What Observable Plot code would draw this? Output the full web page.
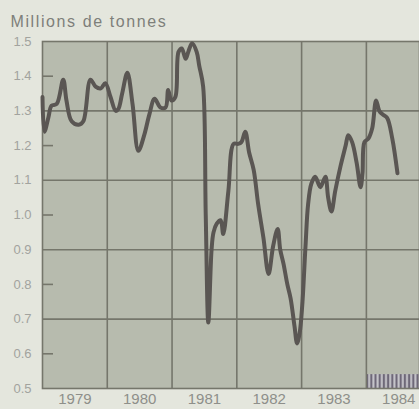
<!DOCTYPE html>
<html>
<head>
<meta charset="utf-8">
<script src="https://cdn.jsdelivr.net/npm/d3@7"></script>
<script src="https://cdn.jsdelivr.net/npm/@observablehq/plot@0.6"></script>
<style>
  html, body { margin: 0; padding: 0; background: #e4e6dd; }
  #chart svg { display: block; }
</style>
</head>
<body>
<div id="chart"></div>
<script>
const title = "Millions de tonnes";
// decimal years and values (millions de tonnes)
const years = [1979.00,1979.03,1979.09,1979.14,1979.22,1979.32,1979.37,1979.45,1979.56,1979.63,
  1979.74,1979.82,1979.90,1979.97,1980.05,1980.13,1980.17,1980.23,1980.31,1980.39,
  1980.48,1980.57,1980.65,1980.73,1980.82,1980.90,1980.94,1980.99,1981.05,1981.10,
  1981.15,1981.21,1981.25,1981.31,1981.38,1981.42,1981.48,1981.52,1981.56,1981.61,
  1981.64,1981.69,1981.75,1981.79,1981.87,1981.95,1982.02,1982.07,1982.13,1982.19,
  1982.26,1982.33,1982.41,1982.49,1982.56,1982.63,1982.67,1982.72,1982.78,1982.83,
  1982.89,1982.93,1982.97,1983.01,1983.06,1983.10,1983.15,1983.21,1983.26,1983.29,
  1983.34,1983.37,1983.41,1983.46,1983.52,1983.60,1983.68,1983.72,1983.78,1983.85,
  1983.91,1983.94,1983.97,1984.03,1984.09,1984.15,1984.20,1984.25,1984.32,1984.40,1984.48];
const values = [1.34,1.24,1.28,1.315,1.32,1.39,1.33,1.27,1.26,1.27,
  1.39,1.37,1.365,1.38,1.34,1.30,1.305,1.35,1.41,1.32,
  1.185,1.23,1.29,1.335,1.31,1.31,1.36,1.33,1.34,1.47,
  1.48,1.45,1.47,1.495,1.47,1.43,1.37,1.00,0.69,0.90,
  0.95,0.975,0.985,0.945,1.07,1.205,1.205,1.21,1.24,1.18,
  1.13,1.03,0.935,0.83,0.91,0.96,0.90,0.86,0.80,0.76,
  0.68,0.63,0.66,0.74,0.91,1.03,1.09,1.11,1.09,1.08,
  1.10,1.11,1.05,1.01,1.07,1.14,1.20,1.23,1.21,1.15,
  1.08,1.12,1.21,1.22,1.25,1.33,1.30,1.29,1.28,1.22,1.12];
const yearLabels = [1979, 1980, 1981, 1982, 1983, 1984];
const yearBounds = [1980, 1981, 1982, 1983, 1984];
const yTicks = [0.5,0.6,0.7,0.8,0.9,1.0,1.1,1.2,1.3,1.4,1.5];
const gridY = [0.7, 0.9, 1.1, 1.3];
const minorY = [0.6, 0.8, 1.0, 1.2, 1.4];
const xDomain = [1979, 1984.82];
const yDomain = [0.5, 1.5];
const hatch = [{x1: 1984, x2: 1984.82, y1: 0.5, y2: 0.54}];

const data = years.map((t, i) => ({t, v: values[i]}));

const gridColor = "#75766b";
const plot = Plot.plot({
  width: 419,
  height: 409,
  marginLeft: 42,
  marginRight: 0,
  marginTop: 41,
  marginBottom: 21,
  style: {background: "#e4e6dd", fontFamily: "'Liberation Sans', Arial, sans-serif"},
  x: {domain: xDomain},
  y: {domain: yDomain},
  marks: [
    Plot.frame({fill: "#b7bbae"}),
    Plot.rect(hatch, {x1: "x1", x2: "x2", y1: "y1", y2: "y2", fill: "url(#hatch)"}),
    Plot.ruleX(yearBounds, {stroke: gridColor, strokeWidth: 1.6}),
    Plot.ruleY(gridY, {stroke: gridColor, strokeWidth: 1.6}),
    Plot.ruleY(minorY, {x1: xDomain[0], x2: xDomain[0] + 0.17, stroke: gridColor, strokeWidth: 1.6}),
    Plot.frame({stroke: gridColor, strokeWidth: 1.6}),
    Plot.line(data, {x: "t", y: "v", stroke: "#5a5653", strokeWidth: 4, strokeLinejoin: "round", strokeLinecap: "round", curve: "catmull-rom"}),
    Plot.axisY({ticks: yTicks, tickFormat: d3.format(".1f"), tickSize: 0, tickPadding: 11, fontSize: 13, color: "#a2a39e", label: null}),
    Plot.axisX({ticks: yearLabels.map(y => y + 0.5), tickFormat: d => String(Math.floor(d)), tickSize: 0, tickPadding: 5, fontSize: 15, color: "#8e8f8a", label: null}),
    Plot.text([title], {frameAnchor: "top-left", dx: -32, dy: -26, text: d => d, textAnchor: "start", fontSize: 16, fill: "#7e7f7a"})
  ]
});

// letter spacing for the title text
plot.querySelectorAll("text").forEach(t => {
  if (t.textContent === title) t.setAttribute("letter-spacing", "1.6");
});

const ns = "http://www.w3.org/2000/svg";
const defs = document.createElementNS(ns, "defs");
defs.innerHTML = '<pattern id="hatch" patternUnits="userSpaceOnUse" width="4.2" height="20"><rect x="0" y="0" width="4.2" height="20" fill="#c8c7cc"/><rect x="0.6" y="0" width="2.2" height="20" fill="#6e6878"/></pattern>';
plot.insertBefore(defs, plot.firstChild);
document.getElementById("chart").appendChild(plot);
</script>
</body>
</html>
